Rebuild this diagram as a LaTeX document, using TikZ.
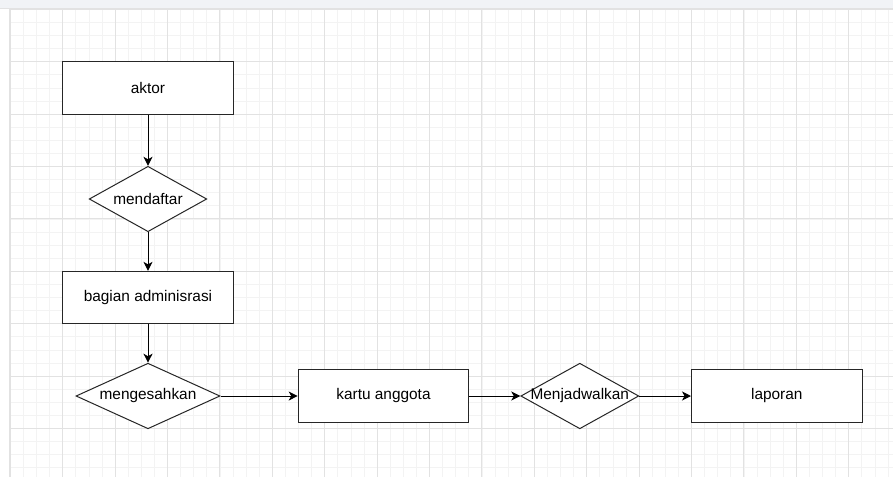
\documentclass[tikz,border=0pt]{standalone}
\usepackage{fontspec}
\setmainfont{Liberation Sans}
\usepackage{tikz}
\usetikzlibrary{shapes.geometric, positioning, arrows.meta}

\definecolor{garismayor}{HTML}{E2E2E2}
\definecolor{garisminor}{HTML}{F3F3F3}
\definecolor{pita}{HTML}{F1F3F6}

\begin{document}
\begin{tikzpicture}[x=1pt, y=-1pt, node distance=100pt, on grid, line width=1pt]
      \tikzset{
        kotak/.style={draw=black!85, fill=white, rectangle, minimum width=170.6pt, minimum height=52.3pt, inner sep=0pt, font=\fontsize{15.4}{18}\selectfont},
        keputusan/.style={draw=black!85, fill=white, diamond, inner sep=0pt, font=\fontsize{15.4}{18}\selectfont,
          execute at begin node={\hbox to 0pt\bgroup\hss}, execute at end node={\hss\egroup}},
        panah/.style={-{Stealth[length=9pt, width=9pt, inset=2.5pt]}, black}
      }
      \useasboundingbox (0,0) rectangle (893,477);
      \fill[white] (0,0) rectangle (893,477);

      % Grid
      \foreach \i in {0,...,67} {
        \draw[garisminor, line width=0.8pt] (10.3+13.1*\i, 9.3) -- (10.3+13.1*\i, 477);
      }
      \foreach \j in {0,...,35} {
        \draw[garisminor, line width=0.8pt] (9.3, 9.3+13.1*\j) -- (893, 9.3+13.1*\j);
      }
      \foreach \i in {0,...,16} {
        \draw[garismayor, line width=0.9pt] (10.3+52.4*\i, 9.3) -- (10.3+52.4*\i, 477);
      }
      \foreach \j in {0,...,8} {
        \draw[garismayor, line width=0.9pt] (9.3, 9.3+52.4*\j) -- (893, 9.3+52.4*\j);
      }
      \fill[pita] (0,0) rectangle (893,7.5);
      \draw[garismayor] (0,8) -- (893,8);
      \draw[garismayor] (9.3,8) -- (9.3,477);

      % Nodes
      \node[kotak]                                                  (aktor)  at (148,88) {aktor};
      \node[keputusan, minimum width=117.6pt, minimum height=65.4pt] (daftar) [below=111pt of aktor] {mendaftar};
      \node[kotak]                                                  (admin)  [below=98.5pt of daftar] {bagian adminisrasi};
      \node[keputusan, minimum width=144pt, minimum height=65.6pt]  (sah)    [below=98.5pt of admin] {mengesahkan};
      \node[kotak]                                                  (kartu)  [right=235.5pt of sah] {kartu anggota};
      \node[keputusan, minimum width=118pt, minimum height=65.6pt]  (jadwal) [right=196.3pt of kartu] {Menjadwalkan};
      \node[kotak]                                                  (lapor)  [right=197pt of jadwal] {laporan};

      % Edges
      \path[panah]
        (aktor)  edge (daftar)
        (daftar) edge (admin)
        (admin)  edge (sah)
        (sah)    edge (kartu)
        (kartu)  edge (jadwal)
        (jadwal) edge (lapor);
    \end{tikzpicture}
\end{document}
